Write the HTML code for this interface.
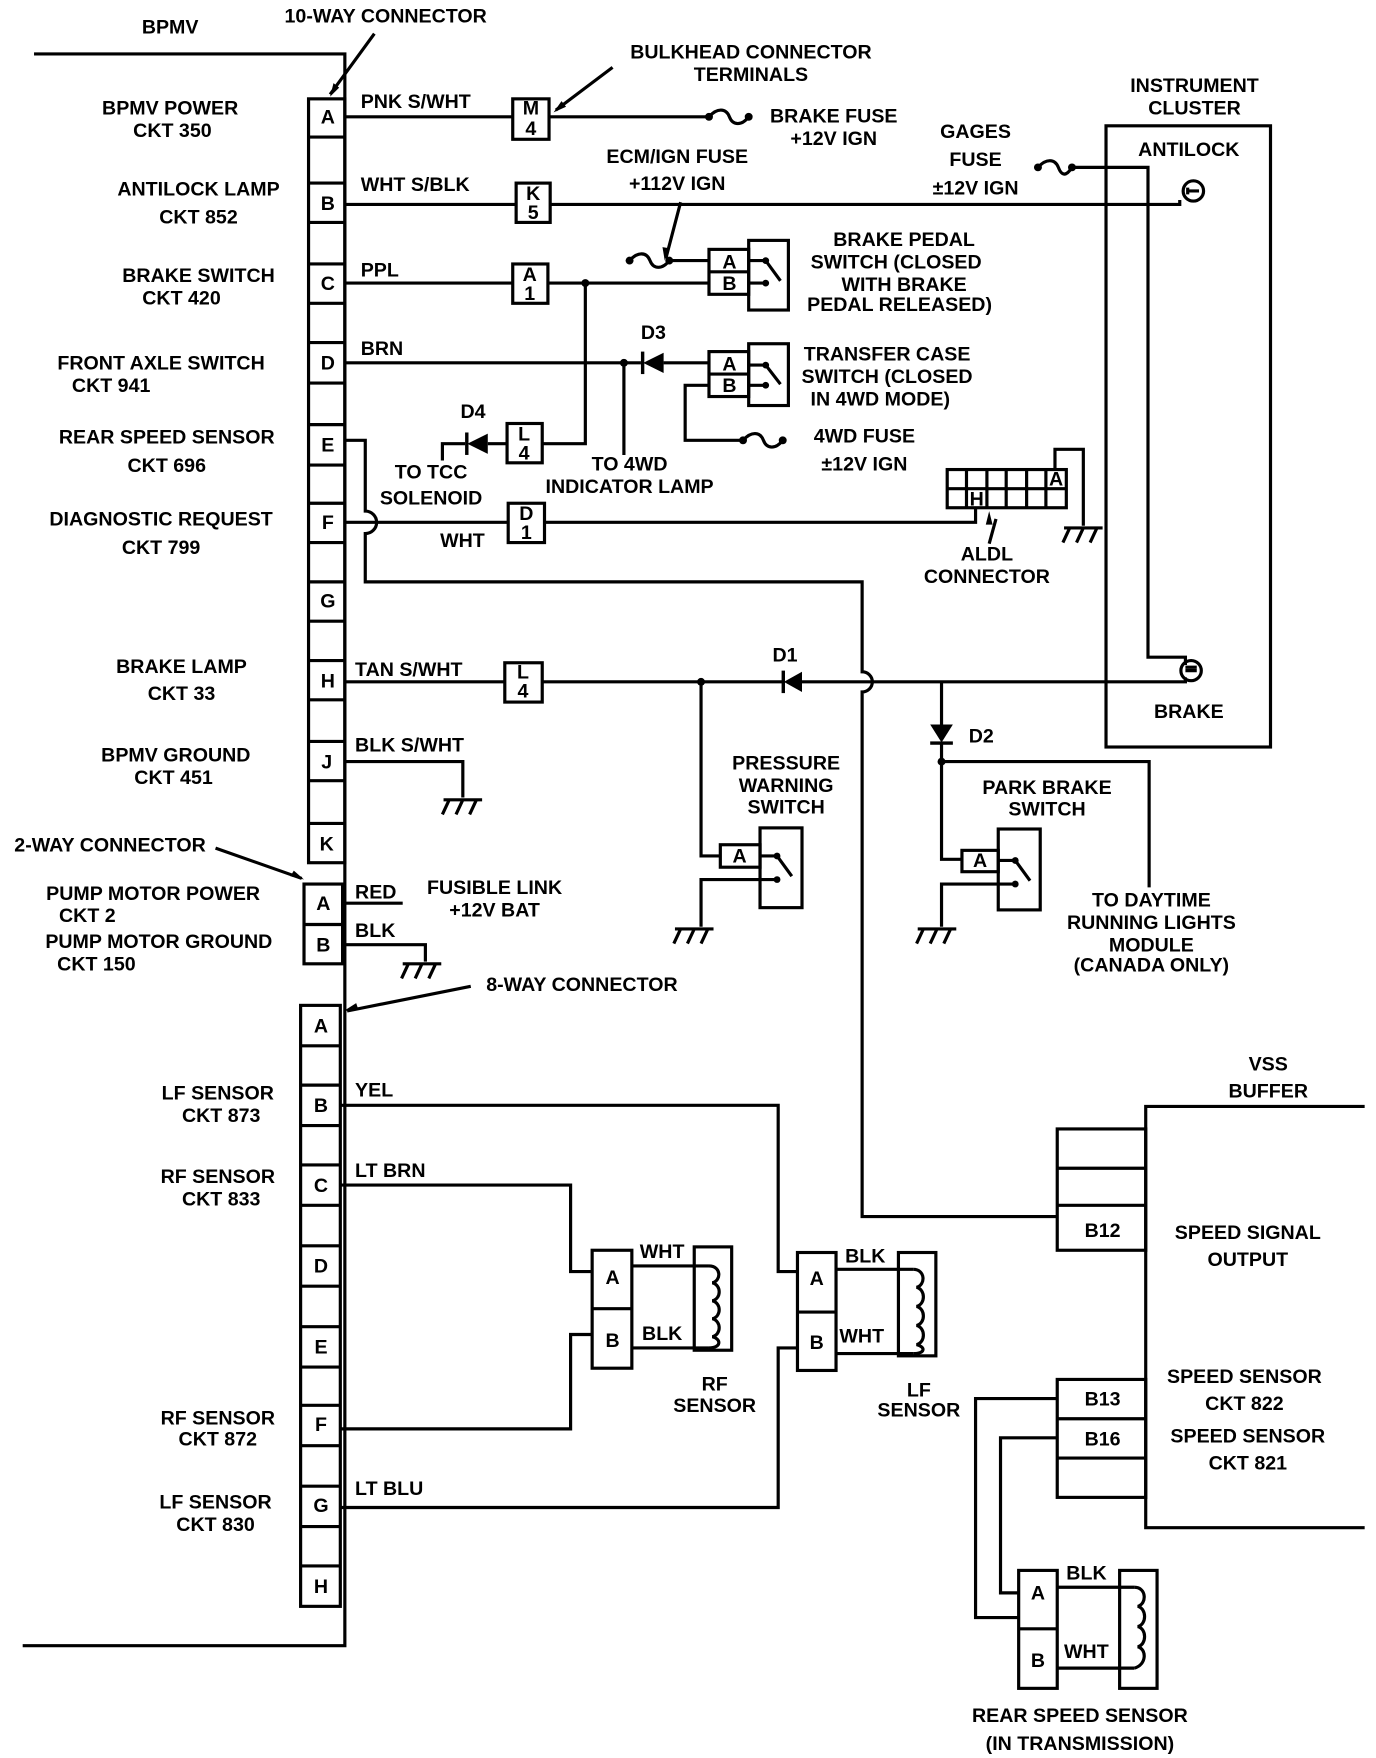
<!DOCTYPE html>
<html><head><meta charset="utf-8"><style>
html,body{margin:0;padding:0;background:#fff}
svg{display:block}
text{font-family:"Liberation Sans",Arial,sans-serif;font-weight:bold;font-size:17.3px;fill:#000}
.c{text-anchor:middle}
</style></head><body>
<svg width="1376" height="1758" viewBox="0 0 1213 1565" preserveAspectRatio="none" xmlns="http://www.w3.org/2000/svg">
<defs>
<g id="gnd"><path d="M-17 0H17M-12 0L-18 13M0 0L-6 13M12 0L6 13" stroke="#000" stroke-width="2.8" fill="none"/></g>
</defs>
<g stroke="#000" stroke-width="2.8" fill="none">
<path d="M30 48H304V1465H20"/>
<rect x="272" y="88" width="32" height="680"/>
<path d="M272 122H304M272 163H304M272 198H304M272 235H304M272 270H304M272 305H304M272 341H304M272 378H304M272 414H304M272 448H304M272 483H304M272 518H304M272 553H304M272 588H304M272 623H304M272 660H304M272 695H304M272 733H304"/>
<rect x="268" y="787" width="34" height="71"/><path d="M268 823H302"/>
<rect x="265" y="895" width="35" height="535"/>
<path d="M265 931H300M265 966H300M265 1002H300M265 1037H300M265 1073H300M265 1109H300M265 1145H300M265 1181H300M265 1217H300M265 1251H300M265 1287H300M265 1323H300M265 1359H300M265 1394H300"/>
<path d="M330 30L291 84M540 60L490 98M190 755L266 782M415 878L306 900M600 180L587 230M878 462L872 484"/>
<path d="M304 104H452M484 104H625"/>
<rect x="452" y="88" width="32" height="36"/>
<path d="M304 182H455M485 182H1040V178"/>
<rect x="455" y="163" width="30" height="35"/>
<path d="M304 252H452M483 252H625"/>
<rect x="452" y="235" width="31" height="35"/>
<path d="M516 252V395H478M447 395H430M410 395H390V410"/>
<rect x="447" y="377" width="31" height="35"/>
<path d="M590 232H625"/>
<rect x="625" y="222" width="35" height="40"/><path d="M625 242H660"/>
<rect x="660" y="214" width="35" height="62"/>
<path d="M660 232H675M660 252H675M675 232L688 250"/>
<path d="M304 323H565M585 323H625"/>
<path d="M550 323V405"/>
<rect x="625" y="313" width="35" height="40"/><path d="M625 333H660"/>
<rect x="660" y="306" width="35" height="55"/>
<path d="M660 325H675M660 343H675M675 325L688 342"/>
<path d="M625 343H604V392H655"/>
<path d="M304 392H322V455A10 10 0 0 1 322 475V518H760V598A9 9 0 0 1 760 616V1083H932"/>
<path d="M304 465H448M480 465H860V452"/>
<rect x="448" y="448" width="32" height="35"/>
<rect x="835" y="418" width="105" height="34"/>
<path d="M835 435H940M852 418V452M870 418V452M887 418V452M905 418V452M922 418V452M930 418V400H955V468"/>
<path d="M945 149H1012V585H1045V592"/>
<rect x="975" y="112" width="145" height="553"/>
<path d="M304 607H445M478 607H690M705 607H1045V603"/>
<rect x="445" y="590" width="33" height="35"/>
<path d="M618 607V762H635"/>
<rect x="635" y="752" width="35" height="20"/>
<rect x="670" y="737" width="37" height="71"/>
<path d="M670 762H685M670 783H685M685 762L698 780M670 783H618V825"/>
<path d="M830 607V645M830 662V765H848M830 678H1013V790"/>
<rect x="848" y="757" width="32" height="19"/>
<rect x="880" y="738" width="37" height="72"/>
<path d="M880 766H895M880 787H895M895 766L908 784M880 787H830V825"/>
<path d="M304 678H408V710M302 804H355M302 841H375V856"/>
<path d="M300 984H686V1132H703M300 1055H503V1132H522M300 1272H503V1188H522M300 1342H686V1200H703"/>
<rect x="522" y="1113" width="35" height="105"/><path d="M522 1165H557"/>
<path d="M557 1127H625M557 1200H625"/>
<rect x="612" y="1110" width="33" height="92"/>
<path d="M625 1127C636 1127 636 1140 628 1142C636 1144 636 1156 628 1158C636 1160 636 1172 628 1174C636 1176 636 1188 628 1190C636 1192 636 1200 625 1200"/>
<rect x="703" y="1115" width="34" height="105"/><path d="M703 1168H737"/>
<path d="M737 1130H805M737 1205H805"/>
<rect x="792" y="1115" width="33" height="92"/>
<path d="M805 1130C816 1130 816 1144 808 1146C816 1148 816 1161 808 1163C816 1165 816 1178 808 1180C816 1182 816 1195 808 1197C816 1199 816 1205 805 1205"/>
<path d="M1203 985H1010V1360H1203"/>
<rect x="932" y="1005" width="78" height="108"/>
<path d="M932 1040H1010M932 1073H1010"/>
<rect x="932" y="1228" width="78" height="105"/>
<path d="M932 1263H1010M932 1298H1010"/>
<path d="M932 1245H860V1440H898M932 1280H882V1418H898"/>
<rect x="898" y="1398" width="34" height="105"/><path d="M898 1450H932"/>
<path d="M932 1413H1000M932 1485H1000"/>
<rect x="987" y="1398" width="33" height="105"/>
<path d="M1000 1413C1011 1413 1011 1428 1003 1430C1011 1432 1011 1446 1003 1448C1011 1450 1011 1464 1003 1466C1011 1468 1011 1482 1000 1485"/>
<path d="M625 104C632 96 640 96 643 104S654 112 660 104"/>
<path d="M555 232C562 224 570 224 573 232S584 240 590 232"/>
<path d="M655 392C662 384 670 384 673 392S684 400 690 392"/>
<path d="M915 149C922 141 930 141 933 149S940 157 945 149"/>
<circle cx="1052" cy="170" r="9"/><path d="M1047 170H1057M1047 167V173"/>
<circle cx="1050" cy="597" r="9"/><path d="M1045 597H1055M1045 594H1055"/>
</g>
<g fill="#000">
<circle cx="625" cy="104" r="3.5"/><circle cx="660" cy="104" r="3.5"/>
<circle cx="555" cy="232" r="3.5"/><circle cx="590" cy="232" r="3.5"/>
<circle cx="655" cy="392" r="3.5"/><circle cx="690" cy="392" r="3.5"/>
<circle cx="915" cy="149" r="3.5"/><circle cx="945" cy="149" r="3.5"/>
<circle cx="516" cy="252" r="3.5"/><circle cx="550" cy="323" r="3.5"/>
<circle cx="618" cy="607" r="3.5"/><circle cx="830" cy="678" r="3.5"/>
<circle cx="675" cy="232" r="3"/><circle cx="675" cy="252" r="3"/>
<circle cx="675" cy="325" r="3"/><circle cx="675" cy="343" r="3"/>
<circle cx="685" cy="762" r="3"/><circle cx="685" cy="783" r="3"/>
<circle cx="895" cy="766" r="3"/><circle cx="895" cy="787" r="3"/>
<path d="M567 323L585 314V332Z"/><rect x="565" y="313" width="3" height="20"/>
<path d="M412 395L430 386V404Z"/><rect x="410" y="385" width="3" height="20"/>
<path d="M691 607L707 598V616Z"/><rect x="689" y="597" width="3" height="20"/>
<path d="M820 645H840L830 661Z"/><rect x="820" y="660" width="20" height="3"/>
<path d="M291 86L294 74L299 78Z"/>
<path d="M488 100L495 90L499 95Z"/>
<path d="M268 783L256 780L259 775Z"/>
<path d="M303 900L314 893L316 899Z"/>
<path d="M586 232L584 220L590 221Z"/>
<path d="M872 455L869 467L875 467Z"/>
</g>
<use href="#gnd" x="408" y="712"/>
<use href="#gnd" x="372" y="858"/>
<use href="#gnd" x="612" y="827"/>
<use href="#gnd" x="826" y="827"/>
<use href="#gnd" x="955" y="470"/>
<g class="c">
<text x="289" y="110" class="c">A</text><text x="289" y="187" class="c">B</text><text x="289" y="258" class="c">C</text><text x="289" y="329" class="c">D</text><text x="289" y="402" class="c">E</text><text x="289" y="471" class="c">F</text><text x="289" y="541" class="c">G</text><text x="289" y="612" class="c">H</text><text x="288" y="684" class="c">J</text><text x="288" y="757" class="c">K</text>
<text x="285" y="810" class="c">A</text><text x="285" y="847" class="c">B</text>
<text x="283" y="919" class="c">A</text><text x="283" y="990" class="c">B</text><text x="283" y="1061" class="c">C</text><text x="283" y="1133" class="c">D</text><text x="283" y="1205" class="c">E</text><text x="283" y="1274" class="c">F</text><text x="283" y="1346" class="c">G</text><text x="283" y="1418" class="c">H</text>
<text x="468" y="102" class="c">M</text><text x="468" y="120" class="c">4</text>
<text x="470" y="178" class="c">K</text><text x="470" y="195" class="c">5</text>
<text x="467" y="250" class="c">A</text><text x="467" y="267" class="c">1</text>
<text x="462" y="392" class="c">L</text><text x="462" y="409" class="c">4</text>
<text x="464" y="463" class="c">D</text><text x="464" y="480" class="c">1</text>
<text x="461" y="604" class="c">L</text><text x="461" y="621" class="c">4</text>
<text x="643" y="239" class="c">A</text><text x="643" y="258" class="c">B</text>
<text x="643" y="330" class="c">A</text><text x="643" y="349" class="c">B</text>
<text x="652" y="768" class="c">A</text><text x="864" y="772" class="c">A</text>
<text x="861" y="450" class="c">H</text><text x="931" y="432" class="c">A</text>
<text x="540" y="1143" class="c">A</text><text x="540" y="1199" class="c">B</text>
<text x="720" y="1144" class="c">A</text><text x="720" y="1201" class="c">B</text>
<text x="915" y="1424" class="c">A</text><text x="915" y="1484" class="c">B</text>
<text x="972" y="1101" class="c">B12</text><text x="972" y="1251" class="c">B13</text><text x="972" y="1287" class="c">B16</text>
</g>
<g class="c">
<text x="150" y="30">BPMV</text>
<text x="340" y="20">10-WAY CONNECTOR</text>
<text x="150" y="102">BPMV POWER</text><text x="152" y="122">CKT 350</text>
<text x="175" y="174">ANTILOCK LAMP</text><text x="175" y="199">CKT 852</text>
<text x="175" y="251">BRAKE SWITCH</text><text x="160" y="271">CKT 420</text>
<text x="142" y="329">FRONT AXLE SWITCH</text><text x="98" y="349">CKT 941</text>
<text x="147" y="395">REAR SPEED SENSOR</text><text x="147" y="420">CKT 696</text>
<text x="142" y="468">DIAGNOSTIC REQUEST</text><text x="142" y="493">CKT 799</text>
<text x="160" y="599">BRAKE LAMP</text><text x="160" y="623">CKT 33</text>
<text x="155" y="678">BPMV GROUND</text><text x="153" y="698">CKT 451</text>
<text x="97" y="758">2-WAY CONNECTOR</text>
<text x="135" y="801">PUMP MOTOR POWER</text><text x="77" y="821">CKT 2</text>
<text x="140" y="844">PUMP MOTOR GROUND</text><text x="85" y="864">CKT 150</text>
<text x="513" y="882">8-WAY CONNECTOR</text>
<text x="192" y="979">LF SENSOR</text><text x="195" y="999">CKT 873</text>
<text x="192" y="1053">RF SENSOR</text><text x="195" y="1073">CKT 833</text>
<text x="192" y="1268">RF SENSOR</text><text x="192" y="1287">CKT 872</text>
<text x="190" y="1343">LF SENSOR</text><text x="190" y="1363">CKT 830</text>
<text x="662" y="52">BULKHEAD CONNECTOR</text><text x="662" y="72">TERMINALS</text>
<text x="735" y="109">BRAKE FUSE</text><text x="735" y="129">+12V IGN</text>
<text x="597" y="145">ECM/IGN FUSE</text><text x="597" y="169">+112V IGN</text>
<text x="860" y="123">GAGES</text><text x="860" y="148">FUSE</text><text x="860" y="173">±12V IGN</text>
<text x="1053" y="82">INSTRUMENT</text><text x="1053" y="102">CLUSTER</text>
<text x="1048" y="139">ANTILOCK</text><text x="1048" y="639">BRAKE</text>
<text x="797" y="219">BRAKE PEDAL</text><text x="790" y="239">SWITCH (CLOSED</text><text x="797" y="259">WITH BRAKE</text><text x="793" y="277">PEDAL RELEASED)</text>
<text x="576" y="302">D3</text>
<text x="782" y="321">TRANSFER CASE</text><text x="782" y="341">SWITCH (CLOSED</text><text x="776" y="361">IN 4WD MODE)</text>
<text x="762" y="394">4WD FUSE</text><text x="762" y="419">±12V IGN</text>
<text x="417" y="372">D4</text>
<text x="380" y="426">TO TCC</text><text x="380" y="449">SOLENOID</text>
<text x="555" y="419">TO 4WD</text><text x="555" y="439">INDICATOR LAMP</text>
<text x="870" y="499">ALDL</text><text x="870" y="519">CONNECTOR</text>
<text x="692" y="589">D1</text><text x="865" y="661">D2</text>
<text x="693" y="685">PRESSURE</text><text x="693" y="705">WARNING</text><text x="693" y="724">SWITCH</text>
<text x="923" y="707">PARK BRAKE</text><text x="923" y="726">SWITCH</text>
<text x="1015" y="807">TO DAYTIME</text><text x="1015" y="827">RUNNING LIGHTS</text><text x="1015" y="847">MODULE</text><text x="1015" y="865">(CANADA ONLY)</text>
<text x="436" y="796">FUSIBLE LINK</text><text x="436" y="816">+12V BAT</text>
<text x="630" y="1238">RF</text><text x="630" y="1257">SENSOR</text>
<text x="810" y="1243">LF</text><text x="810" y="1261">SENSOR</text>
<text x="1118" y="953">VSS</text><text x="1118" y="977">BUFFER</text>
<text x="1100" y="1103">SPEED SIGNAL</text><text x="1100" y="1127">OUTPUT</text>
<text x="1097" y="1231">SPEED SENSOR</text><text x="1097" y="1255">CKT 822</text>
<text x="1100" y="1284">SPEED SENSOR</text><text x="1100" y="1308">CKT 821</text>
<text x="952" y="1533">REAR SPEED SENSOR</text><text x="952" y="1558">(IN TRANSMISSION)</text>
</g>
<g>
<text x="318" y="96">PNK S/WHT</text>
<text x="318" y="170">WHT S/BLK</text>
<text x="318" y="246">PPL</text>
<text x="318" y="316">BRN</text>
<text x="388" y="487">WHT</text>
<text x="313" y="602">TAN S/WHT</text>
<text x="313" y="669">BLK S/WHT</text>
<text x="313" y="800">RED</text>
<text x="313" y="834">BLK</text>
<text x="313" y="976">YEL</text>
<text x="313" y="1048">LT BRN</text>
<text x="313" y="1331">LT BLU</text>
<text x="564" y="1120">WHT</text>
<text x="566" y="1193">BLK</text>
<text x="745" y="1124">BLK</text>
<text x="740" y="1195">WHT</text>
<text x="940" y="1406">BLK</text>
<text x="938" y="1476">WHT</text>
</g>
</svg>
</body></html>
